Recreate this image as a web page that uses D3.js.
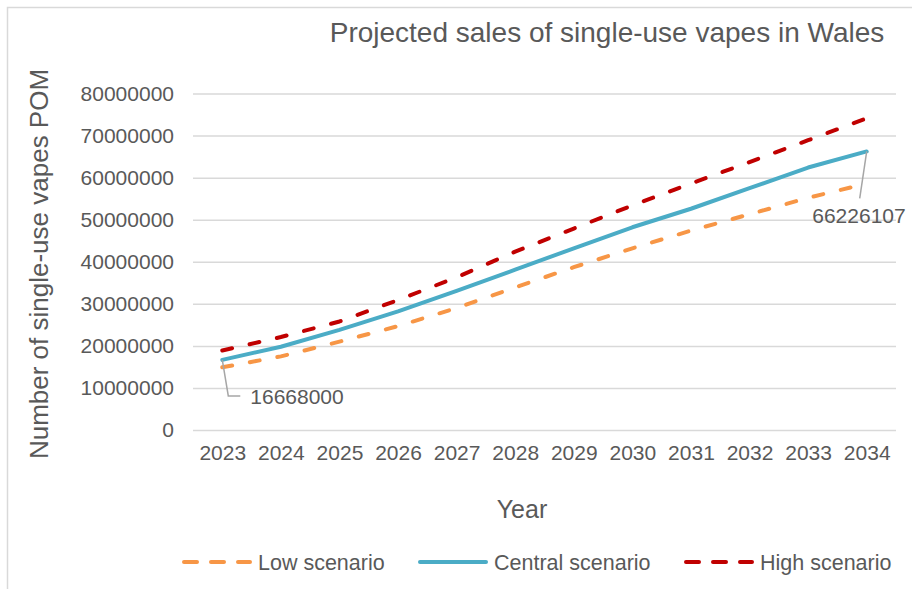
<!DOCTYPE html>
<html>
<head>
<meta charset="utf-8">
<script src="https://cdn.jsdelivr.net/npm/d3@7"></script>
<style>
  body { margin: 0; background: #fff; }
  text { font-family: "Liberation Sans", Arial, sans-serif; fill: #595959; }
</style>
</head>
<body>
<div id="place"></div>
<script>
(function() {

	// values
	const years = ["2023", "2024", "2025", "2026", "2027", "2028", "2029", "2030", "2031", "2032", "2033", "2034"];
	const low = [14900000, 17500000, 21000000, 24700000, 29000000, 33900000, 38700000, 43200000, 47400000, 51300000, 55200000, 58600000];
	const central = [16668000, 19800000, 23800000, 28200000, 33100000, 38100000, 43200000, 48200000, 52600000, 57500000, 62400000, 66226107];
	const high = [18900000, 22100000, 25800000, 30900000, 36300000, 42400000, 47900000, 53400000, 58600000, 63700000, 68900000, 74100000];
	const yTicks = [0, 10000000, 20000000, 30000000, 40000000, 50000000, 60000000, 70000000, 80000000];

	const series = [
		{ name: "Low scenario", values: low, color: "#F79646", dash: "10,18" },
		{ name: "Central scenario", values: central, color: "#4BACC6", dash: null },
		{ name: "High scenario", values: high, color: "#C00000", dash: "10,18" }
	];

	const width = 912, height = 589;
	const margin = { top: 93.5, right: 16, bottom: 159, left: 193 };

	let svg = d3.select("#place").append("svg")
		.attr('width', width)
		.attr('height', height)

	// chart area border (runs off the right and bottom of the picture)
	svg.append('rect')
		.attr('x', 7.5).attr('y', 7.5)
		.attr('width', 1000).attr('height', 1000)
		.style('fill', 'none')
		.style('stroke', '#D9D9D9')
		.style('stroke-width', 1.5)

	const x = d3.scalePoint()
		.domain(years)
		.range([margin.left, width - margin.right])
		.padding(0.5)

	const y = d3.scaleLinear()
		.domain([0, 80000000])
		.range([height - margin.bottom, margin.top])

	// gridlines + y labels via the axis
	const yAxis = svg.append('g')
		.attr('transform', 'translate(' + margin.left + ',0)')
		.call(d3.axisLeft(y).tickValues(yTicks).tickFormat(d3.format('d'))
			.tickSize(-(width - margin.right - margin.left)).tickPadding(19))
	yAxis.select('.domain').remove()
	yAxis.selectAll('line').style('stroke', '#D9D9D9').style('stroke-width', 1.5)
	yAxis.selectAll('text')
		.style('font-size', '21px')
		.style('fill', '#595959')
		.style('font-family', '"Liberation Sans", Arial, sans-serif')

	const xAxis = svg.append('g')
		.attr('transform', 'translate(0,' + (height - margin.bottom) + ')')
		.call(d3.axisBottom(x).tickSize(0).tickPadding(15))
	xAxis.select('.domain').remove()
	xAxis.selectAll('text')
		.style('font-size', '21px')
		.style('fill', '#595959')
		.style('font-family', '"Liberation Sans", Arial, sans-serif')

	const line = d3.line()
		.x((d, i) => x(years[i]))
		.y(d => y(d))

	svg.append('g')
		.attr('class', 'lines')
	  .selectAll('path')
		.data(series)
	  .enter().append('path')
		.attr('d', d => line(d.values))
		.style('fill', 'none')
		.style('stroke', d => d.color)
		.style('stroke-width', 4)
		.style('stroke-linecap', 'round')
		.style('stroke-linejoin', 'round')
		.style('stroke-dasharray', d => d.dash)

	// data labels for first and last central values
	const first = central[0], last = central[central.length - 1];
	const x0 = x(years[0]), y0 = y(first);
	svg.append('polyline')
		.attr('points', [[x0, y0], [x0 + 6, y0 + 36], [x0 + 18, y0 + 36]].join(' '))
		.style('fill', 'none').style('stroke', '#A6A6A6').style('stroke-width', 1.5)
	svg.append('text')
		.attr('x', x0 + 28).attr('y', y0 + 44)
		.style('font-size', '21px')
		.text(first)

	const x1 = x(years[years.length - 1]), y1 = y(last);
	svg.append('line')
		.attr('x1', x1).attr('y1', y1)
		.attr('x2', x1 - 7).attr('y2', y1 + 47)
		.style('stroke', '#A6A6A6').style('stroke-width', 1.5)
	svg.append('text')
		.attr('x', x1 + 39).attr('y', y1 + 72)
		.attr('text-anchor', 'end')
		.style('font-size', '21px')
		.text(last)

	// titles
	svg.append('text')
		.attr('x', 607).attr('y', 42)
		.attr('text-anchor', 'middle')
		.style('font-size', '28px')
		.text('Projected sales of single-use vapes in Wales')

	svg.append('text')
		.attr('transform', 'translate(48,264) rotate(-90)')
		.attr('text-anchor', 'middle')
		.style('font-size', '26px')
		.text('Number of single-use vapes POM')

	svg.append('text')
		.attr('x', 522).attr('y', 518)
		.attr('text-anchor', 'middle')
		.style('font-size', '25px')
		.text('Year')

	// legend
	const legendX = [182, 418, 684];
	const leg = svg.append('g').attr('class', 'legend')
	  .selectAll('g')
		.data(series)
	  .enter().append('g')
		.attr('transform', (d, i) => 'translate(' + legendX[i] + ',562)')
	leg.append('line')
		.attr('x1', 2).attr('x2', 68)
		.style('stroke', d => d.color)
		.style('stroke-width', 4)
		.style('stroke-linecap', 'round')
		.style('stroke-dasharray', d => d.dash ? '13,14' : null)
	leg.append('text')
		.attr('x', 76).attr('y', 7.5)
		.style('font-size', '21.5px')
		.text(d => d.name)

})()
</script>
</body>
</html>
